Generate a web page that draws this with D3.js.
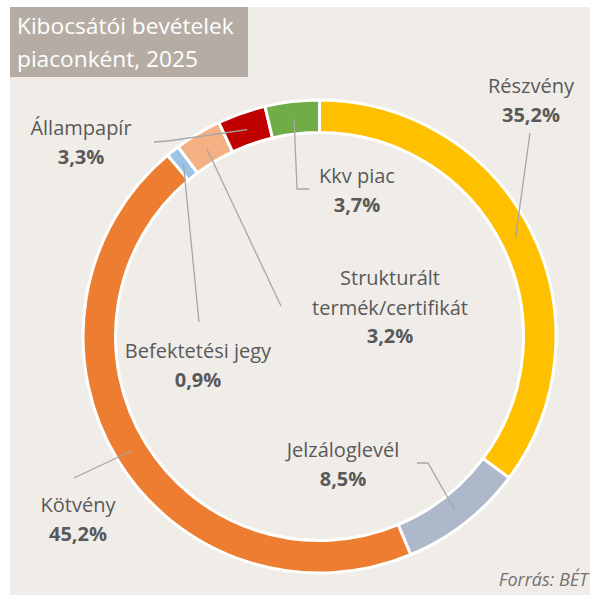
<!DOCTYPE html>
<html>
<head>
<meta charset="utf-8">
<style>
body { margin: 0; background: #fff; }
svg { display: block; }
text { font-family: "Open Sans", sans-serif; }
</style>
</head>
<body>
<svg width="590" height="595"></svg>
<script src="https://cdn.jsdelivr.net/npm/d3@7/dist/d3.min.js"></script>
<script>
// data
var categories = ["Részvény", "Jelzáloglevél", "Kötvény", "Befektetési jegy", "Strukturált termék/certifikát", "Állampapír", "Kkv piac"];
var shares = [35.2, 8.5, 45.2, 0.9, 3.2, 3.3, 3.7];
var colors = ["#ffc000", "#adb9ca", "#ed7d31", "#9dc3e6", "#f4b183", "#c00000", "#70ad47"];

// label layout: text lines + centre x, first baseline, leader start (and elbow)
var labelLayout = [
  {lines: ["Részvény"], x: 531, y: 93, lead: [[530, 133]]},
  {lines: ["Jelzáloglevél"], x: 343, y: 457, lead: [[417, 463], [428, 463]]},
  {lines: ["Kötvény"], x: 78, y: 512, lead: [[74, 478]]},
  {lines: ["Befektetési jegy"], x: 198, y: 358, lead: [[199, 322]]},
  {lines: ["Strukturált", "termék/certifikát"], x: 390, y: 285, lead: [[281, 306]]},
  {lines: ["Állampapír"], x: 81, y: 135, lead: [[154, 142], [168, 141]]},
  {lines: ["Kkv piac"], x: 357, y: 183, lead: [[309, 189], [297, 189]]}
];

var svg = d3.select("svg");
var cx = 319.5, cy = 336.5, rOuter = 236.5, rInner = 204;

svg.append("rect").attr("x", 10).attr("y", 7).attr("width", 580).attr("height", 588).attr("fill", "#f0ede9");

// title box
svg.append("rect").attr("x", 10).attr("y", 7).attr("width", 238).attr("height", 70).attr("fill", "#b5ada5");
svg.append("text").attr("x", 17).attr("y", 34).attr("fill", "#fff").style("font-size", "22.7px").text("Kibocsátói bevételek");
svg.append("text").attr("x", 17).attr("y", 67).attr("fill", "#fff").style("font-size", "22.7px").text("piaconként, 2025");

var data = categories.map(function(c, i) { return {name: c, value: shares[i], color: colors[i], layout: labelLayout[i]}; });

var pie = d3.pie().sort(null).value(function(d) { return d.value; });
var arc = d3.arc().innerRadius(rInner).outerRadius(rOuter);
var midArc = d3.arc().innerRadius((rInner + rOuter) / 2 - 1).outerRadius((rInner + rOuter) / 2 - 1);

var g = svg.append("g").attr("transform", "translate(" + cx + "," + cy + ")");
var arcs = pie(data);

g.selectAll("path.slice")
  .data(arcs)
  .enter().append("path")
    .attr("class", "slice")
    .attr("d", arc)
    .attr("fill", function(d) { return d.data.color; })
    .attr("stroke", "#fff")
    .attr("stroke-width", 3);

// leader lines
var line = d3.line();
svg.selectAll("path.leader")
  .data(arcs)
  .enter().append("path")
    .attr("class", "leader")
    .attr("fill", "none")
    .attr("stroke", "#a6a6a6")
    .attr("stroke-width", 1.3)
    .attr("d", function(d) {
      var c = midArc.centroid(d);
      var pts = d.data.layout.lead.concat([[c[0] + cx, c[1] + cy]]);
      return line(pts);
    });

// labels
var fmt = function(v) { return v.toFixed(1).replace(".", ",") + "%"; };
var labels = svg.selectAll("g.label")
  .data(data)
  .enter().append("g")
    .attr("class", "label")
    .attr("text-anchor", "middle")
    .attr("fill", "#595959")
    .style("font-size", "20px");

labels.each(function(d) {
  var el = d3.select(this), L = d.layout;
  L.lines.forEach(function(t, k) {
    el.append("text").attr("x", L.x).attr("y", L.y + k * 30).text(t);
  });
  el.append("text")
    .attr("x", L.x)
    .attr("y", L.y + L.lines.length * 29)
    .attr("font-weight", "bold")
    .text(fmt(d.value));
});

svg.append("text")
  .attr("x", 588).attr("y", 586)
  .attr("text-anchor", "end")
  .attr("fill", "#767171")
  .style("font-size", "18px")
  .style("font-style", "italic")
  .text("Forrás: BÉT");
</script>
</body>
</html>
